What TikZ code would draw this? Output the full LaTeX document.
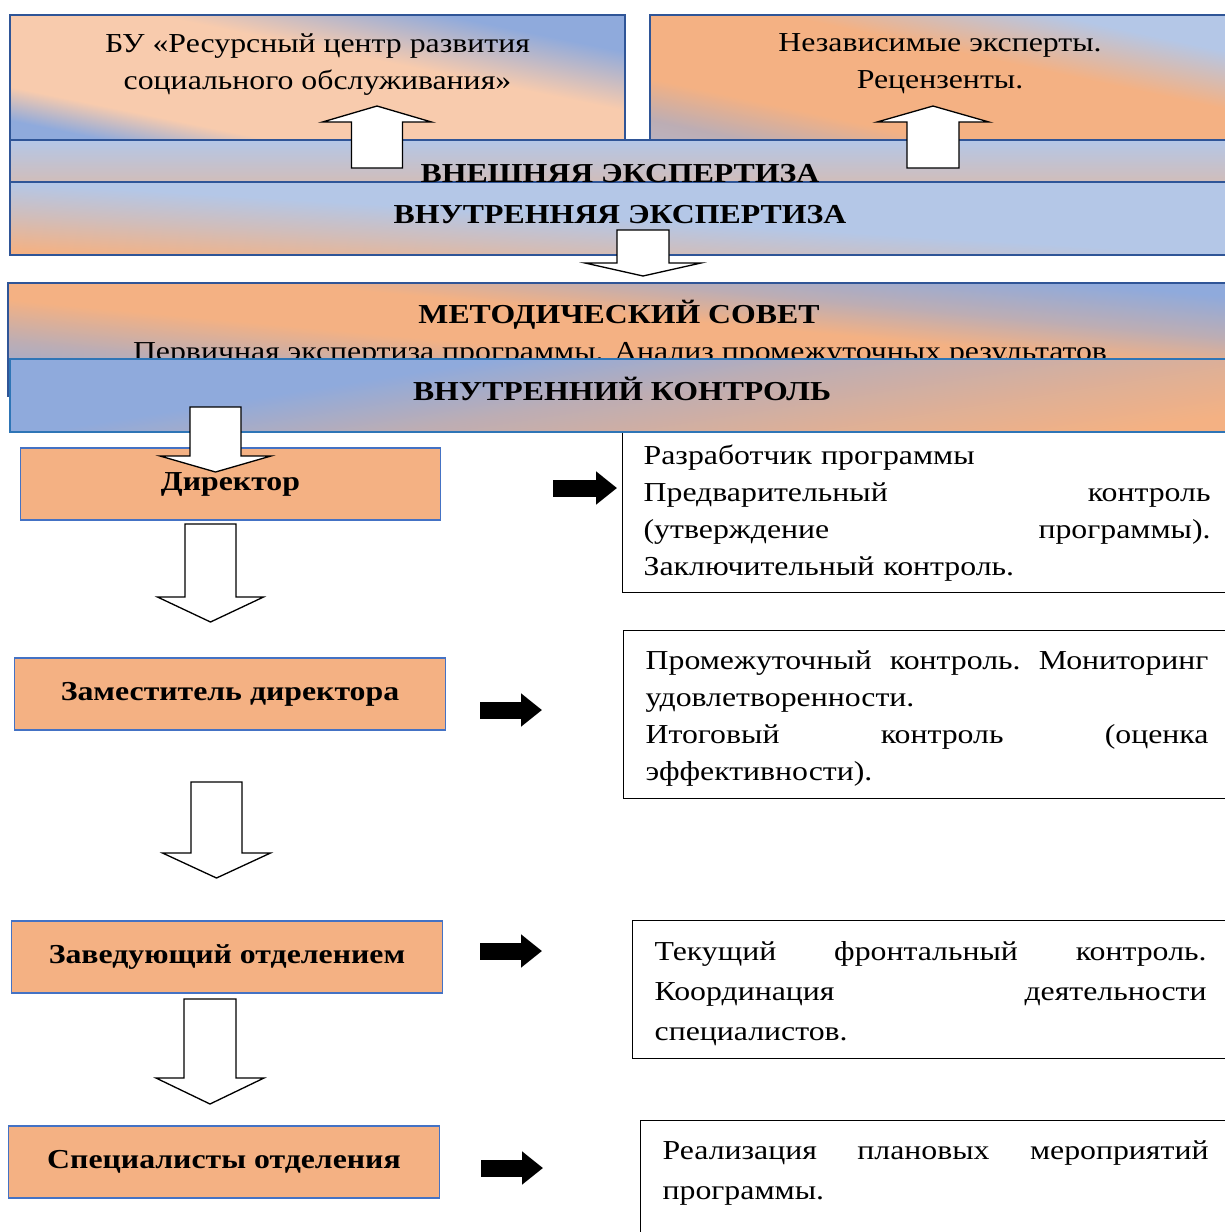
\documentclass[tikz,border=0pt]{standalone}
\usepackage{fontspec}
\setmainfont{Liberation Serif}[FakeStretch=1.16]
\usetikzlibrary{shapes,arrows.meta,positioning}

\definecolor{peach}{HTML}{F8CBAD}
\definecolor{orng}{HTML}{F4B183}
\definecolor{blu}{HTML}{8FAADC}
\definecolor{lblu}{HTML}{B4C7E7}
\definecolor{frame}{HTML}{2F5597}
\definecolor{ctrlframe}{HTML}{2E75B6}
\definecolor{boxframe}{HTML}{4472C4}
\colorlet{lav}{blu!55!orng}
\colorlet{pinkish}{lblu!55!orng}

\pgfdeclareverticalshading{cornersA}{100bp}{color(0bp)=(blu); color(25bp)=(blu); color(33bp)=(peach); color(57bp)=(peach); color(71bp)=(blu); color(100bp)=(blu)}
\pgfdeclareverticalshading{cornersB}{100bp}{color(0bp)=(lblu); color(25bp)=(lav); color(35bp)=(orng); color(57bp)=(orng); color(71bp)=(lblu); color(100bp)=(lblu)}
\pgfdeclareverticalshading{cornersC}{100bp}{color(0bp)=(blu); color(25bp)=(blu); color(36bp)=(lav); color(46bp)=(orng); color(56bp)=(orng); color(64bp)=(lav); color(74bp)=(blu); color(100bp)=(blu)}
\pgfdeclareverticalshading{innershade}{100bp}{color(0bp)=(orng); color(25bp)=(orng); color(38bp)=(pinkish); color(50bp)=(lblu); color(100bp)=(lblu)}
\pgfdeclareverticalshading{ctrlshade}{100bp}{color(0bp)=(orng); color(25bp)=(orng); color(36bp)=(orng!60!lav); color(50bp)=(lav); color(62bp)=(blu); color(100bp)=(blu)}

% justified line of a duty box: width, words split by \hfill
\newcommand{\jl}[2]{\leavevmode\hbox to #1{#2}}
% pushes the first line of a duty box down a little
\newcommand{\firstline}{\rule{0pt}{0.54cm}}
% white block arrow: x, y start, y head, y tip, half shaft, half head
\newcommand{\hollowarrow}[6]{%
  \draw[blockarrow] ({#1-#5},#2) -- ({#1-#5},#3) -- ({#1-#6},#3) -- (#1,#4)
    -- ({#1+#6},#3) -- ({#1+#5},#3) -- ({#1+#5},#2) -- cycle;}

\begin{document}
\begin{tikzpicture}[x=0.02cm, y=-0.02cm]
      \tikzstyle{topbox} = [rectangle, draw=frame, line width=0.8pt, minimum height=2.5cm, inner sep=0pt]
      \tikzstyle{band} = [rectangle, draw=frame, line width=0.8pt, minimum width=24.4cm, inner sep=0pt]
      \tikzstyle{role} = [rectangle, draw=boxframe, line width=0.6pt, fill=orng, minimum width=8.64cm, minimum height=1.44cm, font=\bfseries\fontsize{15.6}{18}\selectfont]
      \tikzstyle{duty} = [rectangle, draw=black, line width=0.75pt, anchor=north west, inner xsep=0.44cm, align=left, font=\fontsize{15.6}{21}\selectfont]
      \tikzstyle{head} = [font=\bfseries\fontsize{15.6}{18}\selectfont, inner sep=0pt]
      \tikzstyle{plain} = [font=\fontsize{15.6}{21}\selectfont, inner sep=0pt, align=center]
      \tikzstyle{blockarrow} = [draw=black, fill=white, line width=0.75pt, line join=miter]
      \tikzstyle{fatarrow} = [line width=0.34cm, -{Triangle[length=0.42cm, width=0.64cm]}]

      \useasboundingbox (0,0) rectangle (1225,1232);
      \clip (0,0) rectangle (1225,1232);

      % external expertise
      \node[topbox, minimum width=12.3cm, shade, shading=cornersA, shading angle=-11.5] (resurs) at (317.5,77.5) {};
      \node[plain, below=0.38cm of resurs.north] (resurstxt) {БУ «Ресурсный центр развития\\социального обслуживания»};
      \node[topbox, minimum width=11.6cm, shade, shading=cornersB, shading angle=-12] (experts) at (940,77.5) {};
      \node[plain, below=0.38cm of experts.north] (expertstxt) {Независимые эксперты.\\Рецензенты.};

      \node[band, minimum height=0.84cm, top color=lblu, bottom color=pinkish] (vnesh) at (620,161) {};
      \node[band, minimum height=1.46cm, shade, shading=innershade, shading angle=-3.4] (vnutr) at (620,218.5) {};
      \node[head, anchor=base] (vneshtxt) at (vnesh.south) {ВНЕШНЯЯ ЭКСПЕРТИЗА};
      \node[head, anchor=base] (vnutrtxt) at (620,223) {ВНУТРЕННЯЯ ЭКСПЕРТИЗА};

      \hollowarrow{377}{168}{122}{106}{25.5}{54.5}
      \hollowarrow{933}{168}{122}{106}{26}{56}
      \hollowarrow{643}{230}{263}{276}{26}{58}

      % methodical council
      \node[band, minimum width=24.44cm, minimum height=2.26cm, shade, shading=cornersC, shading angle=-5.3] (metod) at (619,339.5) {};
      \node[head, anchor=base] (metodtxt) at (619,323) {МЕТОДИЧЕСКИЙ СОВЕТ};
      \node[plain, anchor=base] (metodsub) at (620,360) {Первичная экспертиза программы. Анализ промежуточных результатов};

      \node[duty, text width=11.34cm, minimum height=3.34cm, inner xsep=0.42cm] (duty1) at (622,425) {\firstline Разработчик программы\\\jl{11.34cm}{Предварительный\hfill контроль}\\\jl{11.34cm}{(утверждение\hfill программы).}\\Заключительный контроль.};

      % internal control
      \node[band, draw=ctrlframe, minimum height=1.46cm, shade, shading=ctrlshade, shading angle=9] (kontrol) at (620,395.5) {};
      \node[head, anchor=base] (kontroltxt) at (622,400) {ВНУТРЕННИЙ КОНТРОЛЬ};

      \node[role, minimum width=8.42cm] (dir) at (230.5,484) {Директор};
      \hollowarrow{215.5}{407}{456}{472}{25.5}{55.5}
      \node[role] (zam) at (230,694) {Заместитель директора};
      \node[role] (zav) at (227,957) {Заведующий отделением};
      \node[role] (spec) at (224,1162) {Специалисты отделения};
      \hollowarrow{210.5}{524}{597}{622}{25.5}{53}
      \hollowarrow{216.5}{782}{853}{878}{25.5}{54}
      \hollowarrow{210}{999}{1078}{1104}{26}{54}

      \node[duty, text width=11.26cm, minimum height=3.36cm] (duty2) at (623,630) {\firstline\jl{11.26cm}{Промежуточный\hfill контроль.\hfill Мониторинг}\\удовлетворенности.\\\jl{11.26cm}{Итоговый\hfill контроль\hfill (оценка}\\эффективности).};
      \node[duty, text width=11.04cm, minimum height=2.76cm, font=\fontsize{15.6}{22.8}\selectfont] (duty3) at (632,920) {\firstline\jl{11.04cm}{Текущий\hfill фронтальный\hfill контроль.}\\\jl{11.04cm}{Координация\hfill деятельности}\\специалистов.};
      \node[duty, text width=10.92cm, inner ysep=0.4cm, font=\fontsize{15.6}{22.8}\selectfont] (duty4) at (640,1120) {\jl{10.92cm}{Реализация\hfill плановых\hfill мероприятий}\\программы.\\\rule{0pt}{2cm}};

      \coordinate (a1s) at (553,488);  \coordinate (a1e) at (617,488);
      \coordinate (a2s) at (480,710);  \coordinate (a2e) at (542,710);
      \coordinate (a3s) at (480,951);  \coordinate (a3e) at (542,951);
      \coordinate (a4s) at (481,1168); \coordinate (a4e) at (543,1168);
      \draw[fatarrow] (a1s) -- (a1e);
      \draw[fatarrow] (a2s) -- (a2e);
      \draw[fatarrow] (a3s) -- (a3e);
      \draw[fatarrow] (a4s) -- (a4e);
    \end{tikzpicture}
\end{document}
